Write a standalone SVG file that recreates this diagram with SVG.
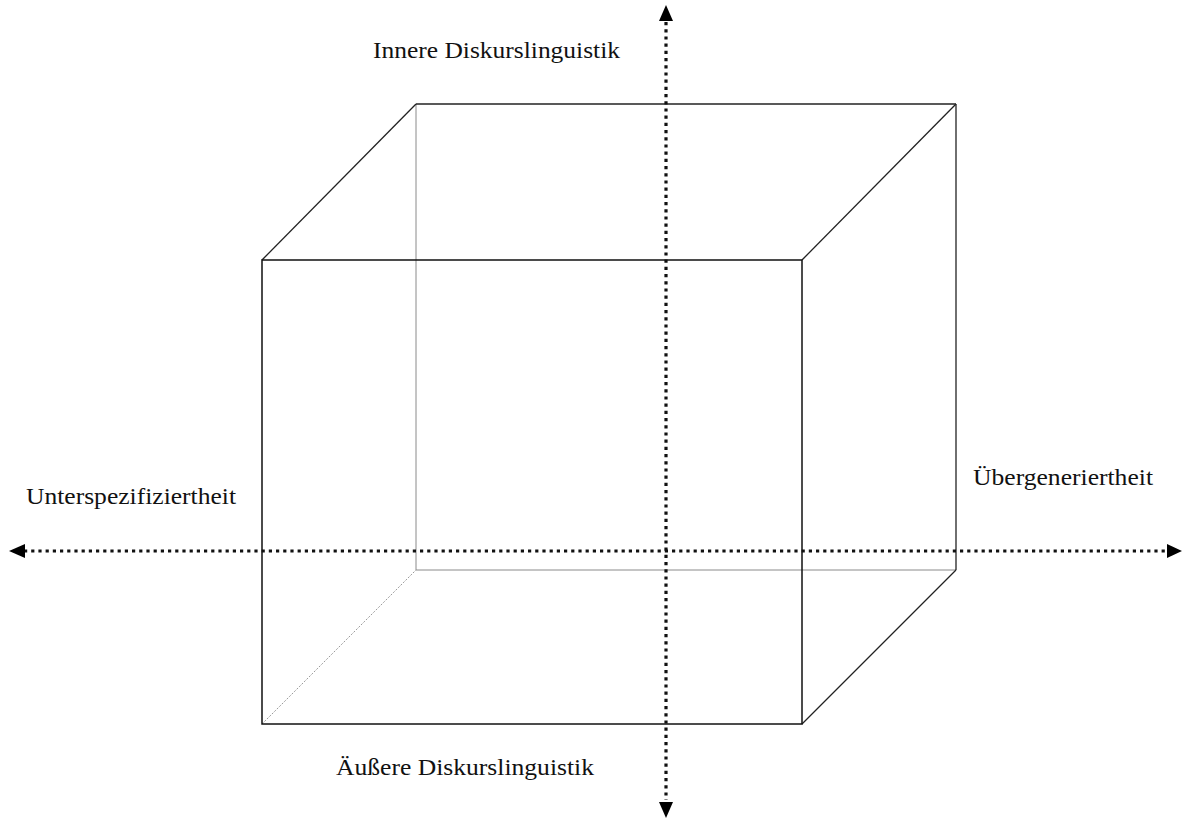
<svg xmlns="http://www.w3.org/2000/svg" width="1182" height="820" viewBox="0 0 1182 820">
<style>
.front{fill:none;stroke:#111;stroke-width:1.5}
.edge{fill:none;stroke:#222;stroke-width:1.3}
.hidden{fill:none;stroke:#8a8a8a;stroke-width:1}
.hdot{fill:none;stroke:#9a9a9a;stroke-width:1;stroke-dasharray:2 1.5}
.axis{fill:none;stroke:#111;stroke-width:3.2;stroke-dasharray:3.2 4}
.head{fill:#000}
.lbl{font-family:"Liberation Serif","DejaVu Serif",serif;font-size:23px;fill:#111}
</style>
<rect width="1182" height="820" fill="#fff"/>
<g id="cube">
<line class="hidden" x1="416" y1="104" x2="416" y2="570"/>
<line class="hidden" x1="416" y1="570" x2="956" y2="570"/>
<line class="hdot" x1="262" y1="724" x2="416" y2="570"/>
<line class="edge" x1="416" y1="104" x2="956" y2="104"/>
<line class="edge" x1="956" y1="104" x2="956" y2="570"/>
<line class="edge" x1="262" y1="260" x2="416" y2="104"/>
<line class="edge" x1="802" y1="260" x2="956" y2="104"/>
<line class="edge" x1="802" y1="724" x2="956" y2="570"/>
<rect class="front" x="262" y="260" width="540" height="464"/>
</g>
<g id="connectors">
<line class="axis" x1="24" y1="551" x2="1168" y2="551"/>
<line class="axis" x1="666" y1="22" x2="666" y2="800"/>
<polygon class="head" points="9,551 25,544 25,558"/>
<polygon class="head" points="1182,551 1167,544 1167,558"/>
<polygon class="head" points="666,5 659,21 673,21"/>
<polygon class="head" points="666,818 659,802 673,802"/>
</g>
<g id="label-top"><text class="lbl" x="373" y="58" textLength="247" lengthAdjust="spacingAndGlyphs">Innere Diskurslinguistik</text></g>
<g id="label-left"><text class="lbl" x="26" y="504" textLength="210" lengthAdjust="spacingAndGlyphs">Unterspezifiziertheit</text></g>
<g id="label-right"><text class="lbl" x="973" y="485" textLength="180" lengthAdjust="spacingAndGlyphs">Übergeneriertheit</text></g>
<g id="label-bottom"><text class="lbl" x="336" y="775" textLength="258" lengthAdjust="spacingAndGlyphs">Äußere Diskurslinguistik</text></g>
</svg>
